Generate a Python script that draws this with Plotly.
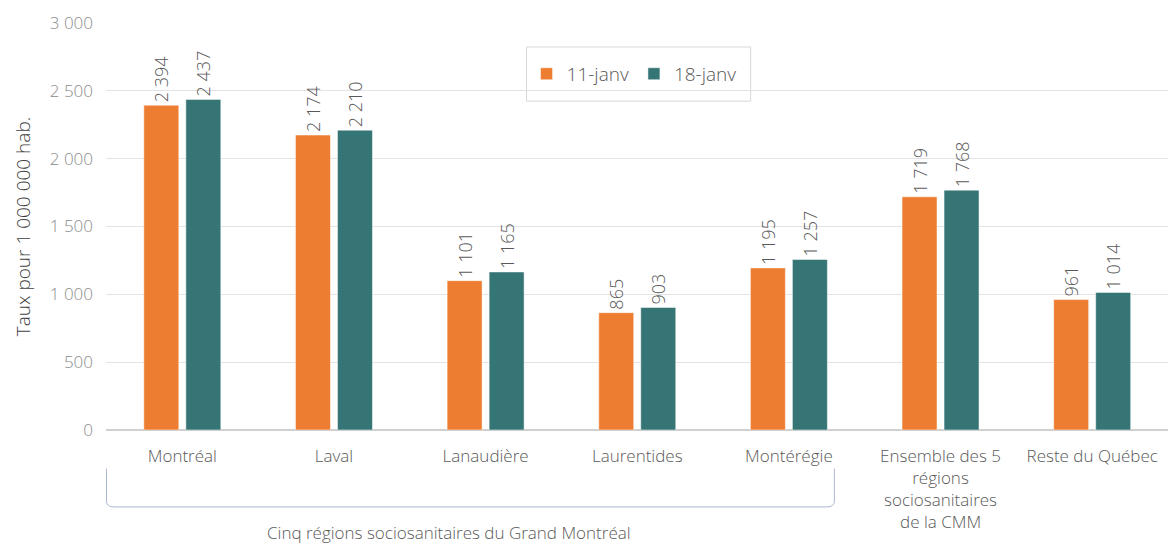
import plotly.graph_objects as go

categories = ["Montréal", "Laval", "Lanaudière", "Laurentides", "Montérégie",
              "Ensemble des 5<br>régions<br>sociosanitaires<br>de la CMM", "Reste du Québec"]
jan11 = [2394, 2174, 1101, 865, 1195, 1719, 961]
jan18 = [2437, 2210, 1165, 903, 1257, 1768, 1014]
series_names = ["11-janv", "18-janv"]
colors = ["#ed7d31", "#367576"]

FONT = "Open Sans"
GREY = "#595959"

fig = go.Figure()
for name, vals, col in zip(series_names, [jan11, jan18], colors):
    fig.add_trace(go.Bar(
        x=categories, y=vals, name=name,
        marker=dict(color=col, line=dict(color="white", width=0.5)),
        texttemplate="%{y:,}", textposition="outside", textangle=-90,
        textfont=dict(size=18, color=GREY, family=FONT, weight=300),
        constraintext="none", cliponaxis=False,
    ))

# bracket under the five Grand Montréal regions
fig.add_shape(
    type="path", xref="x", yref="paper",
    path="M -0.5,-0.095 L -0.5,-0.175 Q -0.5,-0.189 -0.45,-0.189 "
         "L 4.25,-0.189 Q 4.3,-0.189 4.3,-0.175 L 4.3,-0.095",
    line=dict(color="#a9b8d0", width=1),
)
fig.add_annotation(
    x=1.76, y=-0.253, xref="x", yref="paper", showarrow=False,
    text="Cinq régions sociosanitaires du Grand Montréal",
    font=dict(size=17, color=GREY, family=FONT, weight=300), yanchor="middle",
)
# legend frame
fig.add_shape(
    type="rect", xref="paper", yref="paper",
    x0=0.396, x1=0.607, y0=0.808, y1=0.941,
    line=dict(color="#d9d9d9", width=1), fillcolor="white", layer="below",
)

fig.update_layout(
    width=1168, height=546,
    margin=dict(l=106, r=0, t=23, b=116),
    plot_bgcolor="white", paper_bgcolor="white",
    separators=", ",
    barmode="group", bargap=0.446, bargroupgap=0.167,
    font=dict(family=FONT, color=GREY, weight=300),
    legend=dict(
        orientation="h", x=0.396, y=0.875, xanchor="left", yanchor="middle",
        borderwidth=0, bgcolor="rgba(0,0,0,0)",
        font=dict(size=19, color=GREY, weight=300),
        itemwidth=30,
    ),
)
fig.update_yaxes(
    range=[0, 3000], dtick=500, tickformat=",d",
    showgrid=True, gridcolor="#e3e3e3", zeroline=True, zerolinecolor="#d0d0d0",
    tickfont=dict(size=17, color="#8c8c8c", weight=300), ticklabelstandoff=12,
    title=dict(text="Taux pour 1 000 000 hab.",
               font=dict(size=19, color="#404040", weight=300), standoff=14),
)
fig.update_xaxes(
    tickfont=dict(size=17, color=GREY, weight=300), showline=False, ticks="",
    ticklabelstandoff=14,
)

fig.write_html("out.html", config={"displayModeBar": False},
               post_script="document.body.style.margin='0';document.body.style.overflow='hidden';")
